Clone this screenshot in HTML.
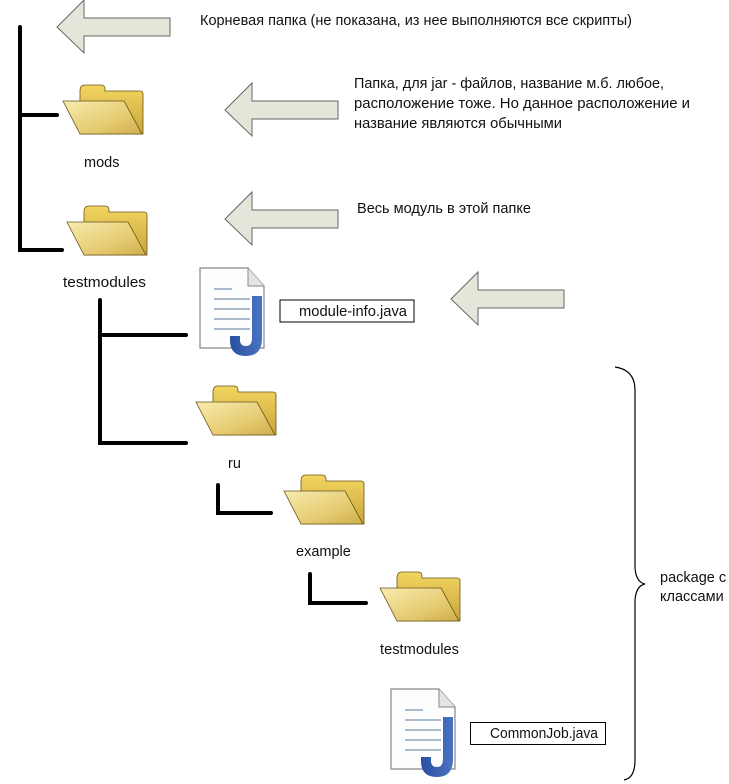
<!DOCTYPE html>
<html><head><meta charset="utf-8"><style>
html,body{margin:0;padding:0;background:#fff;}
svg{display:block;}
text{font-family:"Liberation Sans","DejaVu Sans",sans-serif;font-size:14.5px;fill:#111;}
</style></head><body>
<svg width="729" height="784" viewBox="0 0 729 784" xmlns="http://www.w3.org/2000/svg">
<defs>
<linearGradient id="fb" x1="0" y1="0" x2="0" y2="1"><stop offset="0" stop-color="#f2d560"/><stop offset="1" stop-color="#c9a63c"/></linearGradient>
<linearGradient id="ff" x1="0" y1="0" x2="1" y2="1"><stop offset="0" stop-color="#f7ecb0"/><stop offset="0.6" stop-color="#e6cc72"/><stop offset="1" stop-color="#cfae4c"/></linearGradient>
<linearGradient id="jb" x1="0" y1="0" x2="1" y2="0"><stop offset="0" stop-color="#2a4fa0"/><stop offset="1" stop-color="#4a73c0"/></linearGradient>
<g id="folder">
<path d="M17,6 Q17,0 22,0 L38,0 Q42,0 42,4 L42,6 L77,6 Q80,6 80,9 L80,49 L17,49 Z" fill="url(#fb)" stroke="#6b5418" stroke-width="0.8"/>
<path d="M0,16 L61,16 L79,49 L17,49 Z" fill="url(#ff)" stroke="#6b5418" stroke-width="0.8"/>
</g>
<g id="jfile">
<path d="M0,0 L48,0 L64,18 L64,80 L0,80 Z" fill="#fdfdfd" stroke="#888" stroke-width="1.2"/>
<path d="M48,0 L48,18 L64,18" fill="#e4e4e4" stroke="#888" stroke-width="1"/>
<g stroke="#8ea6bc" stroke-width="1.5"><line x1="14" y1="21" x2="32" y2="21"/><line x1="14" y1="31" x2="50" y2="31"/><line x1="14" y1="41" x2="50" y2="41"/><line x1="14" y1="51" x2="50" y2="51"/><line x1="14" y1="61" x2="50" y2="61"/></g>
<path d="M52,28 L62,28 L62,70 Q62,88 46,88 Q30,88 30,72 L30,68 L40,68 L40,72 Q40,78 46,78 Q52,78 52,70 Z" fill="url(#jb)"/>
</g>
<path id="arrow" d="M0,27 L27,0 L27,18 L113,18 L113,36 L27,36 L27,53 Z" fill="#e3e7d9" stroke="#666" stroke-width="1"/>
</defs>
<use href="#arrow" x="57" y="0"/>
<use href="#arrow" x="225" y="83"/>
<use href="#arrow" x="225" y="192"/>
<use href="#arrow" x="451" y="272"/>
<g stroke="#000" stroke-width="4" stroke-linecap="round" fill="none">
<polyline points="20,27 20,250 62,250"/>
<line x1="20" y1="115" x2="57" y2="115"/>
<polyline points="100,300 100,443 186,443"/>
<line x1="100" y1="335" x2="186" y2="335"/>
<polyline points="218,485 218,513 271,513"/>
<polyline points="310,574 310,603 366,603"/>
</g>
<use href="#folder" x="63" y="85"/>
<use href="#folder" x="67" y="206"/>
<use href="#folder" x="196" y="386"/>
<use href="#folder" x="284" y="475"/>
<use href="#folder" x="380" y="572"/>
<use href="#jfile" x="200" y="268"/>
<use href="#jfile" x="391" y="689"/>
<rect x="280" y="300" width="134" height="22" fill="#fff" stroke="#000" stroke-width="1"/>
<text x="299" y="316" textLength="108" lengthAdjust="spacingAndGlyphs">module-info.java</text>
<rect x="470.5" y="722.5" width="135" height="22" fill="#fff" stroke="#000" stroke-width="1"/>
<text x="490" y="738" textLength="108" lengthAdjust="spacingAndGlyphs">CommonJob.java</text>
<text x="84" y="167">mods</text>
<text x="63" y="287" textLength="83" lengthAdjust="spacingAndGlyphs">testmodules</text>
<text x="228" y="468">ru</text>
<text x="296" y="556">example</text>
<text x="380" y="654" textLength="79" lengthAdjust="spacingAndGlyphs">testmodules</text>
<text x="200" y="25" textLength="432" lengthAdjust="spacingAndGlyphs">Корневая папка (не показана, из нее выполняются все скрипты)</text>
<text x="354" y="88" textLength="310" lengthAdjust="spacingAndGlyphs">Папка, для jar - файлов, название м.б. любое,</text>
<text x="354" y="108" textLength="336" lengthAdjust="spacingAndGlyphs">расположение тоже. Но данное расположение и</text>
<text x="354" y="128" textLength="208" lengthAdjust="spacingAndGlyphs">название являются обычными</text>
<text x="357" y="213" textLength="174" lengthAdjust="spacingAndGlyphs">Весь модуль в этой папке</text>
<path d="M615,367 Q635,370 635,390 L635,568 Q636,582 645,584 Q636,586 635,600 L635,760 Q635,778 624,780" fill="none" stroke="#000" stroke-width="1.2"/>
<text x="660" y="582">package с</text>
<text x="660" y="601">классами</text>
</svg>
</body></html>
